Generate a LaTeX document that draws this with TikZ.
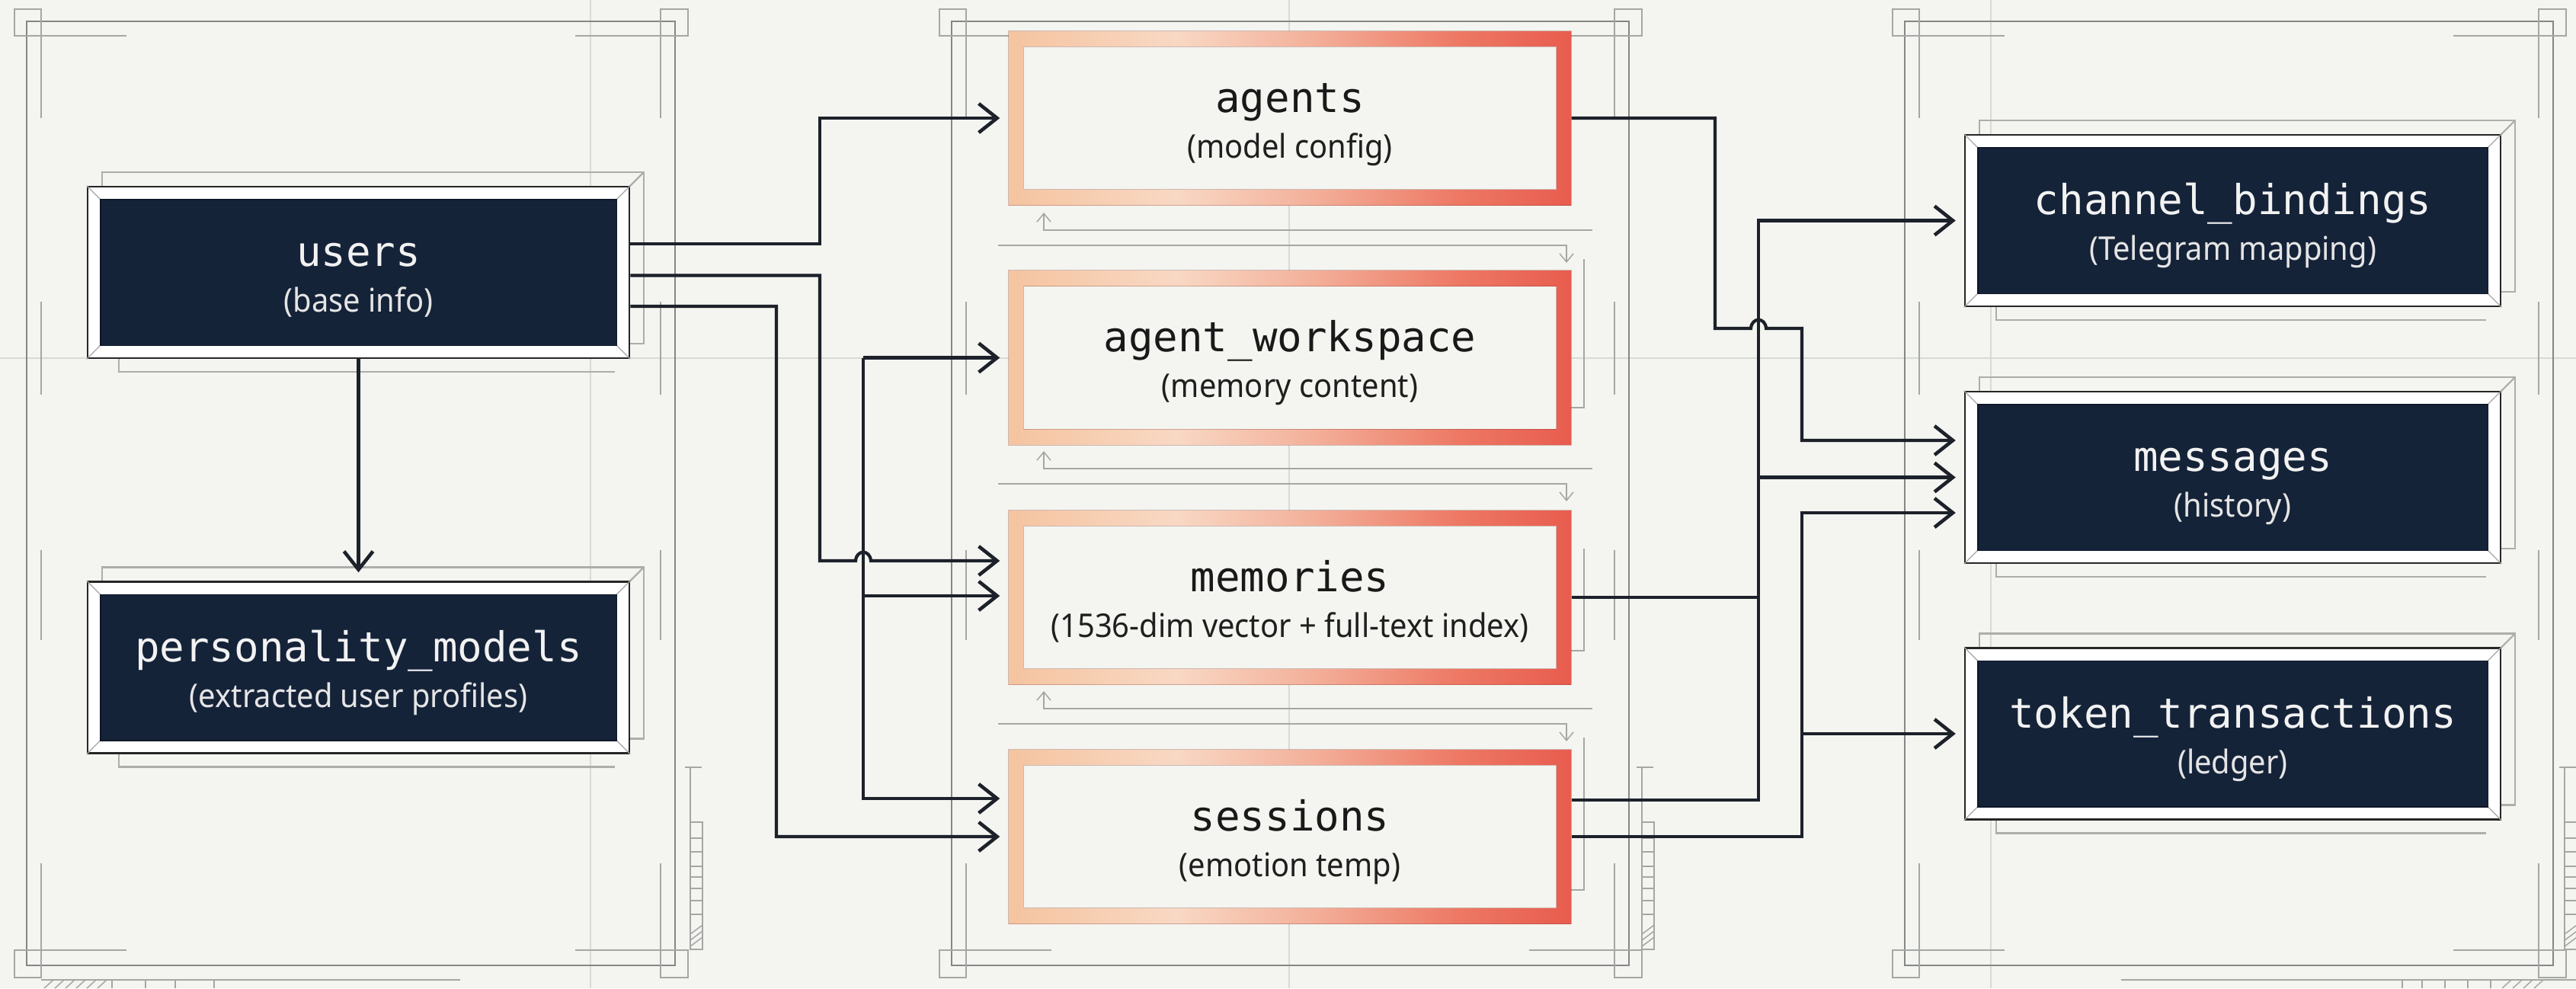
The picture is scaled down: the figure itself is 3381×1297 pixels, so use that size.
\documentclass[tikz,border=0pt]{standalone}
\usepackage{fontspec}
\usetikzlibrary{arrows.meta,calc}
\newfontfamily\monofont{DejaVu Sans Mono}
\newfontfamily\condfont[FakeStretch=0.93]{Noto Sans}

\definecolor{paper}{RGB}{244,245,240}
\definecolor{navy}{RGB}{21,35,57}
\definecolor{ink}{RGB}{28,33,42}
\definecolor{framegray}{RGB}{132,135,135}
\definecolor{markgray}{RGB}{165,167,165}
\definecolor{guidegray}{RGB}{216,218,213}
\definecolor{plategray}{RGB}{172,174,172}
\definecolor{peach}{RGB}{245,196,160}
\definecolor{cream}{RGB}{248,216,196}
\definecolor{salmon}{RGB}{243,176,154}
\definecolor{rose}{RGB}{237,120,100}
\definecolor{coral}{RGB}{232,92,78}

% peach-to-coral ring of the central tables
\pgfdeclarehorizontalshading{ringshade}{100bp}{color(0bp)=(peach); color(25bp)=(peach); color(40bp)=(cream); color(52bp)=(salmon); color(65bp)=(rose); color(75bp)=(coral); color(100bp)=(coral)}

\tikzset{
  conn/.style={draw=ink, line width=0.42mm, line join=miter},
  arr/.style={conn, -{Straight Barb[length=2.4mm,width=3.8mm,line width=0.46mm]}, shorten >=1.1mm},
  panelline/.style={draw=framegray, line width=0.24mm},
  tickmark/.style={draw=markgray, line width=0.15mm},
  guideline/.style={draw=guidegray, line width=0.2mm},
  plateline/.style={draw=plategray, line width=0.22mm},
  decoline/.style={draw=markgray, line width=0.15mm},
  bevelline/.style={draw=black!35, line width=0.12mm},
  darkframe/.style={draw=black!85, line width=0.25mm, fill=white, minimum height=22.5mm, inner sep=0pt},
  ringframe/.style={shade, shading=ringshade, draw=none, minimum width=73.8mm, minimum height=22.8mm, inner sep=0pt},
  ringedge/.style={draw=coral!50!black, draw opacity=0.3, line width=0.12mm},
  dtitle/.style={anchor=base, inner sep=0pt, text=white!95!black, font=\monofont\fontsize{15.4}{18}\selectfont},
  dsub/.style={anchor=base, inner sep=0pt, text=white!90!black, font=\condfont\fontsize{12.2}{14}\selectfont},
  ltitle/.style={anchor=base, inner sep=0pt, text=black!90, font=\monofont\fontsize{15.4}{18}\selectfont},
  lsub/.style={anchor=base, inner sep=0pt, text=black!88, font=\condfont\fontsize{12.2}{14}\selectfont},
}

% dark table: name, centre x, centre y, width, title, note
\newcommand\darktable[6]{%
  \draw[plateline] (#2-#4/2+19,#3-131.5) rectangle (#2+#4/2+19,#3+93.5);
  \draw[plateline] (#2+#4/2,#3-112.5) -- (#2+#4/2+19,#3-131.5);
  \draw[plateline] (#2-#4/2+41,#3+112.5) -- (#2-#4/2+41,#3+130.5) -- (#2+#4/2-19,#3+130.5);
  \node[darkframe, minimum width=#4*0.1mm] (#1) at (#2,#3) {};
  \fill[navy] ($(#1.north west)+(18,18)$) rectangle ($(#1.south east)+(-18,-18)$);
  \draw[bevelline] (#1.north west) -- ++(18,18);
  \draw[bevelline] (#1.north east) -- ++(-18,18);
  \draw[bevelline] (#1.south west) -- ++(18,-18);
  \draw[bevelline] (#1.south east) -- ++(-18,-18);
  \draw[navy!70!black, line width=0.15mm] ($(#1.north west)+(18,18)$) rectangle ($(#1.south east)+(-18,-18)$);
  \node[dtitle] (#1-title) at (#2,#3-8) {#5};
  \node[dsub] (#1-note) at (#2,#3+52) {#6};
}

% shaded ring table: name, centre x, centre y, title, note
\newcommand\ringtable[5]{%
  \node[ringframe] (#1) at (#2,#3) {};
  \fill[paper] ($(#1.north west)+(20,21)$) rectangle ($(#1.south east)+(-20,-21)$);
  \draw[ringedge] (#1.north west) rectangle (#1.south east);
  \draw[ringedge] ($(#1.north west)+(20,21)$) rectangle ($(#1.south east)+(-20,-21)$);
  \node[ltitle] (#1-title) at (#2,#3-8) {#4};
  \node[lsub] (#1-note) at (#2,#3+52) {#5};
}

% panel outline with corner marks: left x, right x
\newcommand\panelframe[2]{%
  \draw[panelline] (#1,28) rectangle (#2,1267);
  \draw[tickmark] (#1-16,12) rectangle (#1+19,47);
  \draw[tickmark] (#1+19,47) -- (#1+131,47) (#1+19,47) -- (#1+19,155);
  \draw[tickmark] (#2-19,12) rectangle (#2+17,47);
  \draw[tickmark] (#2-19,47) -- (#2-131,47) (#2-19,47) -- (#2-19,155);
  \draw[tickmark] (#1-16,1247) rectangle (#1+19,1283);
  \draw[tickmark] (#1+19,1247) -- (#1+131,1247) (#1+19,1247) -- (#1+19,1133);
  \draw[tickmark] (#2-19,1247) rectangle (#2+17,1283);
  \draw[tickmark] (#2-19,1247) -- (#2-131,1247) (#2-19,1247) -- (#2-19,1133);
  \draw[tickmark] (#1+19,396) -- (#1+19,518) (#1+19,722) -- (#1+19,840);
  \draw[tickmark] (#2-19,396) -- (#2-19,518) (#2-19,722) -- (#2-19,840);
}

% small ruler at the lower right of a panel: left x
\newcommand\sideruler[1]{%
  \draw[tickmark] (#1-7,1007) -- (#1+15,1007) (#1,1007) -- (#1,1079);
  \draw[tickmark] (#1,1079) rectangle (#1+16,1246);
  \foreach \yy in {1100,1118,1137,1151,1166,1182,1200} \draw[tickmark] (#1,\yy) -- (#1+16,\yy);
  \foreach \yy in {1226,1234,1242} \draw[tickmark] (#1,\yy) -- (#1+16,\yy-12);
}

\begin{document}
\begin{tikzpicture}[x=0.1mm,y=-0.1mm]
\useasboundingbox (0,0) rectangle (3381,1297);
\fill[paper] (0,0) rectangle (3381,1297);

% construction guides
\draw[guideline] (0,470) -- (3381,470);
\foreach \gx in {775,1692,2613} \draw[guideline] (\gx,0) -- (\gx,1297);

% panels
\panelframe{35}{886}
\panelframe{1249}{2138}
\panelframe{2500}{3351}
\sideruler{906}
\sideruler{2155}
\sideruler{3366}

% strips below the panels
\draw[tickmark] (54,1286) -- (604,1286);
\foreach \xx in {147,191,230,281} \draw[tickmark] (\xx,1286) -- (\xx,1297);
\foreach \xx in {58,72,...,128} \draw[tickmark] (\xx,1297) -- (\xx+12,1286);
\draw[tickmark] (2784,1286) -- (3381,1286);
\foreach \xx in {3153,3179,3209,3239,3269} \draw[tickmark] (\xx,1286) -- (\xx,1297);
\foreach \xx in {3284,3298,...,3330} \draw[tickmark] (\xx,1297) -- (\xx+12,1286);

% flow marks between the central tables
\foreach \yb in {269,582,897} {
  \draw[decoline, {Straight Barb[length=1.1mm,width=1.8mm]}-] (1370,\yb+10) -- (1370,\yb+33) -- (2090,\yb+33);
  \draw[decoline, -{Straight Barb[length=1.1mm,width=1.8mm]}] (1310,\yb+53) -- (2056,\yb+53) -- (2056,\yb+76);
}
\draw[decoline] (2079,340) -- (2079,535) -- (2062,535);
\draw[decoline] (2079,720) -- (2079,854) -- (2062,854);
\draw[decoline] (2079,968) -- (2079,1168) -- (2062,1168);

% tables
\darktable{users}{470.5}{357.5}{711}{users}{(base info)}
\darktable{personality}{470.5}{876}{711}{personality\_models}{(extracted user profiles)}

\ringtable{agents}{1693}{155}{agents}{(model config)}
\ringtable{workspace}{1693}{469.5}{agent\_workspace}{(memory content)}
\ringtable{memories}{1693}{784}{memories}{(1536-dim vector + full-text index)}
\ringtable{sessions}{1693}{1098}{sessions}{(emotion temp)}

\darktable{channels}{2930.5}{289.5}{703}{channel\_bindings}{(Telegram mapping)}
\darktable{messages}{2930.5}{626.5}{703}{messages}{(history)}
\darktable{tokens}{2930.5}{963}{703}{token\_transactions}{(ledger)}

% users fan-out
\draw[arr] (users) -- (personality);
\draw[arr] ($(users.east)+(0,-37.5)$) -- (1076,320) |- (agents.west);
\draw[arr] ($(users.east)+(0,4)$) -- (1076,361.5) -- (1076,736) -- (1123,736)
  .. controls (1124,721) and (1142,721) .. (1143,736) -- ($(memories.west)+(0,-48)$);
\draw[arr] ($(users.east)+(0,44.5)$) -- (1019,402) |- (sessions.west);

% bus into the central tables
\coordinate (busAtop) at (1133,469.5);
\coordinate (busAmid) at (1133,782);
\draw[arr] (busAtop) -- (workspace.west);
\draw[arr] (busAtop) -- (1133,1048) -- ($(sessions.west)+(0,-50)$);
\draw[arr] (busAmid) -- ($(memories.west)+(0,-2)$);

% agents to messages
\draw[arr] (agents.east) -- (2251,155) -- (2251,431) -- (2298,431)
  .. controls (2299,416) and (2317,416) .. (2318,431) -- (2365,431) -- (2365,578)
  -- ($(messages.west)+(0,-48.5)$);

% memories and sessions to channel bindings and messages
\coordinate (busBmid) at (2308,626.5);
\draw[conn] (memories.east) -- (2308,784);
\draw[arr] ($(sessions.east)+(0,-48)$) -- (2308,1050) |- (channels.west);
\draw[arr] (busBmid) -- (messages.west);

% sessions to messages and token transactions
\coordinate (busCmid) at (2365,963);
\draw[arr] (sessions.east) -- (2365,1098) |- ($(messages.west)+(0,46.5)$);
\draw[arr] (busCmid) -- (tokens.west);
\end{tikzpicture}
\end{document}
